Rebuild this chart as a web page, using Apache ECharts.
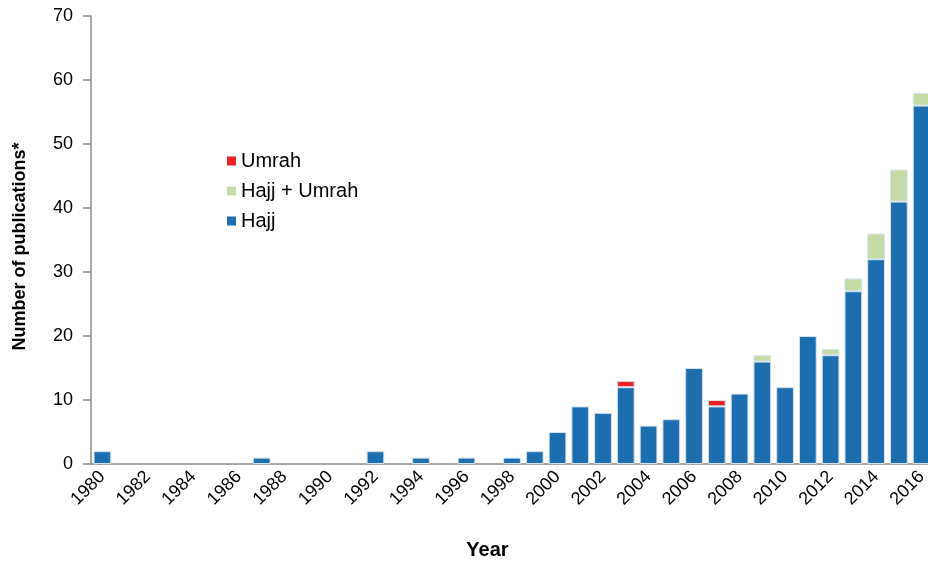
<!DOCTYPE html>
<html>
<head>
<meta charset="utf-8">
<script src="https://cdn.jsdelivr.net/npm/echarts@6/dist/echarts.min.js"></script>
<style>html,body{margin:0;padding:0;background:#fff;overflow:hidden}#c{width:934px;height:565px}</style>
</head>
<body>
<div id="c"></div>
<script>
const years = [];
for (let y = 1980; y <= 2016; y++) years.push(String(y));
const hajj = [2,0,0,0,0,0,0,1,0,0,0,0,2,0,1,0,1,0,1,2,5,9,8,12,6,7,15,9,11,16,12,20,17,27,32,41,56];
const hajjUmrah = [0,0,0,0,0,0,0,0,0,0,0,0,0,0,0,0,0,0,0,0,0,0,0,0,0,0,0,0,0,1,0,0,1,2,4,5,2];
const umrah = [0,0,0,0,0,0,0,0,0,0,0,0,0,0,0,0,0,0,0,0,0,0,0,1,0,0,0,1,0,0,0,0,0,0,0,0,0];
const yTicks = [0,10,20,30,40,50,60,70];

const font = 'Liberation Sans, Arial, sans-serif';
const nz = a => a.map(v => v === 0 ? '-' : v);
const chart = echarts.init(document.getElementById('c'));
const barStyle = c => ({ color: c, borderColor: '#d6e3f0', borderWidth: 1 });
chart.setOption({
  animation: false,
  grid: { left: 91, top: 16, bottom: 98, right: 1, containLabel: false },
  legend: {
    orient: 'vertical', left: 222, top: 146, itemWidth: 9, itemHeight: 9, itemGap: 10,
    icon: 'rect',
    itemStyle: { borderWidth: 0 },
    data: ['Umrah', 'Hajj + Umrah', 'Hajj'],
    textStyle: { fontFamily: font, fontSize: 20, color: '#000' }
  },
  xAxis: {
    type: 'category', data: years,
    name: 'Year', nameLocation: 'middle', nameGap: 76,
    nameTextStyle: { fontFamily: font, fontSize: 20, fontWeight: 'bold', color: '#000', padding: [0, 49, 0, 0] },
    axisLine: { lineStyle: { color: '#888', width: 1.5 } },
    axisTick: { interval: 1, length: 7, lineStyle: { color: '#888', width: 1.5 } },
    axisLabel: { interval: 1, rotate: 45, fontFamily: font, fontSize: 18, color: '#000', margin: 10 }
  },
  yAxis: {
    type: 'value', min: yTicks[0], max: yTicks[yTicks.length-1], interval: 10,
    name: 'Number of publications*', nameLocation: 'middle', nameGap: 62,
    nameTextStyle: { fontFamily: font, fontSize: 18, fontWeight: 'bold', color: '#000', padding: [0, 13, 0, 0] },
    axisLine: { show: true, lineStyle: { color: '#888', width: 1.5 } },
    axisTick: { show: true, length: 8, lineStyle: { color: '#888', width: 1.5 } },
    axisLabel: { fontFamily: font, fontSize: 18, color: '#000', margin: 18 },
    splitLine: { show: false }
  },
  series: [
    { name: 'Hajj', type: 'bar', stack: 's', data: nz(hajj), barCategoryGap: '22%', itemStyle: barStyle('#1c6eaf') },
    { name: 'Hajj + Umrah', type: 'bar', stack: 's', data: nz(hajjUmrah), itemStyle: barStyle('#c4dba6') },
    { name: 'Umrah', type: 'bar', stack: 's', data: nz(umrah), itemStyle: barStyle('#ee2125') }
  ]
});
</script>
</body>
</html>
